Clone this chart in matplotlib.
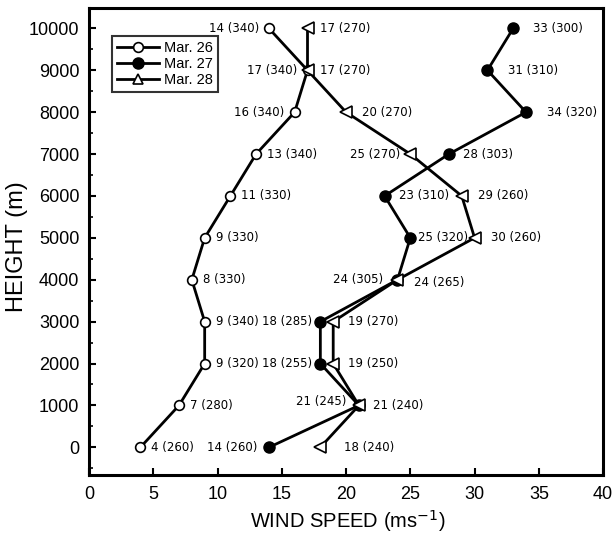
import matplotlib
matplotlib.use("Agg")
import matplotlib.pyplot as plt
from matplotlib.ticker import MultipleLocator
from matplotlib.lines import Line2D

heights = [0, 1000, 2000, 3000, 4000, 5000, 6000, 7000, 8000, 9000, 10000]

mar26_speed = [4, 7, 9, 9, 8, 9, 11, 13, 16, 17, 14]
mar26_dir = [260, 280, 320, 340, 330, 330, 330, 340, 340, 340, 340]

mar27_speed = [14, 21, 18, 18, 24, 25, 23, 28, 34, 31, 33]
mar27_dir = [260, 245, 255, 285, 305, 320, 310, 303, 320, 310, 300]

mar28_speed = [18, 21, 19, 19, 24, 30, 29, 25, 20, 17, 17]
mar28_dir = [240, 240, 250, 270, 265, 260, 260, 270, 270, 270, 270]

legend_labels = ['Mar. 26', 'Mar. 27', 'Mar. 28']

# label offsets (pixels): (dx, dy); negative dx -> label on the left
mar26_off = [(11, 0)] * 8 + [(-10, 0)] * 3
mar27_off = [(-12, 0), (-13, 4), (-8, 0), (-8, 0), (-14, 0), (8, 0),
             (14, 0), (14, 0), (21, 0), (21, 0), (20, 0)]
mar28_off = [(24, 0), (14, 0), (15, 0), (15, 0), (17, -3), (16, 0),
             (16, 0), (-10, 0), (16, 0), (13, 0), (13, 0)]

fig = plt.figure(figsize=(6.15, 5.34), dpi=100)
ax = fig.add_axes([0.1447, 0.1105, 0.836, 0.874])

lw = 2.0
ax.plot(mar26_speed, heights, '-', color='black', lw=lw, marker='o', ms=7,
        mfc='white', mec='black', mew=1.2, zorder=3)
ax.plot(mar27_speed, heights, '-', color='black', lw=lw, marker='o', ms=8,
        mfc='black', mec='black', zorder=3)
ax.plot(mar28_speed, heights, '-', color='black', lw=lw, marker='<', ms=8,
        mfc='white', mec='black', mew=1.2, zorder=3)

lab_font = dict(fontsize=8.5, family='DejaVu Sans', color='black')

def annotate(speeds, dirs, offs):
    for s, d, h, (dx, dy) in zip(speeds, dirs, heights, offs):
        txt = f"{s} ({d})"
        ax.annotate(txt, (s, h), xytext=(dx * 0.72, dy * 0.72),
                    textcoords='offset points',
                    ha='left' if dx > 0 else 'right', va='center', **lab_font)

annotate(mar26_speed, mar26_dir, mar26_off)
annotate(mar27_speed, mar27_dir, mar27_off)
annotate(mar28_speed, mar28_dir, mar28_off)

ax.set_xlim(0, 40)
ax.set_ylim(-660, 10480)
ax.xaxis.set_major_locator(MultipleLocator(5))
ax.yaxis.set_major_locator(MultipleLocator(1000))
ax.yaxis.set_minor_locator(MultipleLocator(500))
ax.tick_params(axis='both', which='both', direction='in', top=False, right=False)
ax.tick_params(axis='both', which='major', length=5, width=1.5, labelsize=13)
ax.tick_params(axis='x', which='major', pad=8)
ax.tick_params(axis='y', which='major', pad=7)
ax.tick_params(axis='y', which='minor', length=3, width=1.2)
for lab in ax.get_xticklabels() + ax.get_yticklabels():
    lab.set_family('Liberation Sans')
for sp in ax.spines.values():
    sp.set_linewidth(2.2)

fig.text(0.565, 0.011, 'WIND SPEED (ms$^{-1}$)', fontsize=14.5, family='Liberation Sans',
         ha='center', va='baseline')
fig.text(0.027, 0.538, 'HEIGHT (m)', fontsize=17, family='Liberation Sans',
         ha='center', va='center', rotation=90)

handles = [
    Line2D([], [], color='black', lw=lw, marker='o', ms=7, mfc='white', mec='black', mew=1.2),
    Line2D([], [], color='black', lw=lw, marker='o', ms=8, mfc='black', mec='black'),
    Line2D([], [], color='black', lw=lw, marker='^', ms=7, mfc='white', mec='black', mew=1.2),
]
leg = ax.legend(handles, legend_labels, loc='upper left', bbox_to_anchor=(0.0447, 0.94),
                borderaxespad=0, frameon=True, fancybox=False, edgecolor='black',
                handlelength=2.9, handletextpad=0.35, borderpad=0.32, labelspacing=0.14,
                prop={'family': 'Liberation Sans', 'size': 10.5})
leg.get_frame().set_linewidth(1.5)

fig.savefig('out.png', dpi=100)
